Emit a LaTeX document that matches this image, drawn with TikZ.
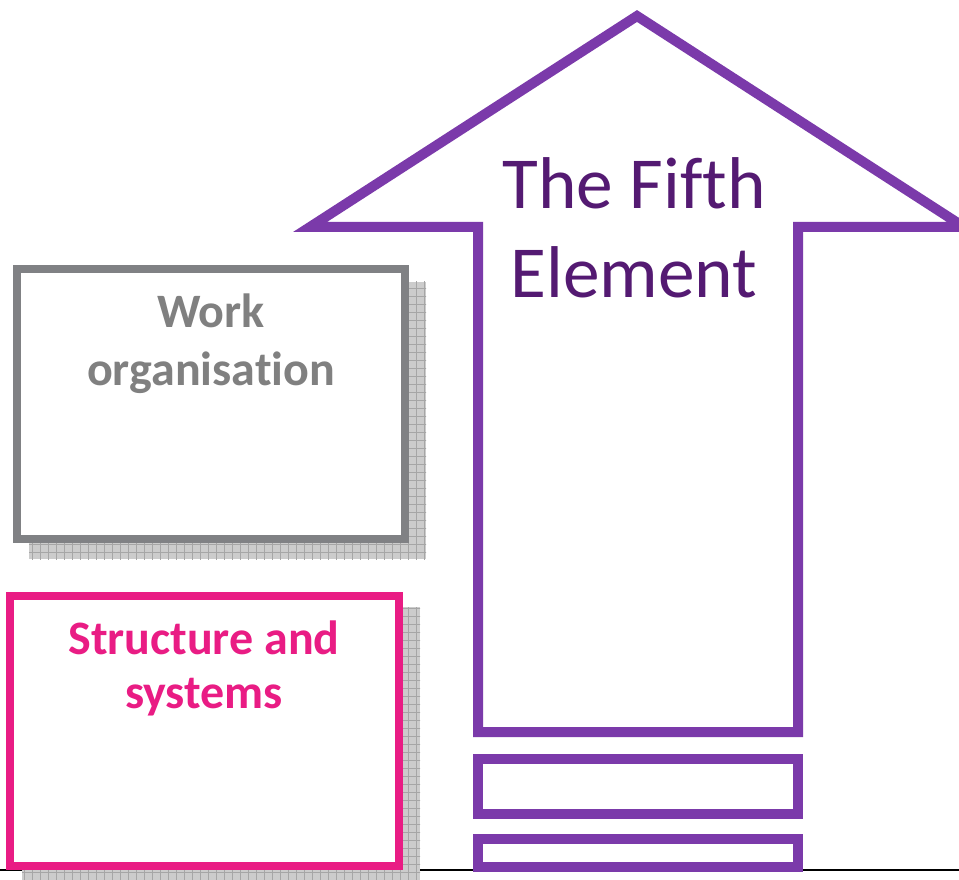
\documentclass[tikz,border=0pt]{standalone}
\usepackage{fontspec}
\setmainfont{Carlito}[Ligatures=NoCommon]
\usetikzlibrary{patterns.meta}
\definecolor{arrowpurple}{RGB}{123,58,170}
\definecolor{titlepurple}{RGB}{84,26,114}
\definecolor{framegray}{RGB}{128,129,132}
\definecolor{labelgray}{RGB}{128,128,128}
\definecolor{framepink}{RGB}{233,28,132}
\begin{document}
\begin{tikzpicture}[x=0.75pt,y=-0.75pt,
	shadowrect/.style={fill=gray!40},
	shadowgrid/.style={pattern={Lines[angle=0,distance=6pt,line width=0.5pt]},pattern color=gray!70},
	shadowgridv/.style={pattern={Lines[angle=90,distance=6pt,line width=0.5pt]},pattern color=gray!70},
	element/.style={draw=arrowpurple,line width=7.5pt,fill=white},
	boxlabel/.style={align=center,anchor=base,font=\bfseries\fontsize{36}{43}\selectfont}]
	\useasboundingbox (0,0) rectangle (959,880);
	% ground line
	\draw[line width=0.8pt] (0,870) -- (959,870);
	% shadows
	\foreach \a/\b/\c/\d in {29/282/426/559, 22/607/420/886} {
		\fill[shadowrect] (\a,\b) rectangle (\c,\d);
		\path[shadowgrid] (\a,\b) rectangle (\c,\d);
		\path[shadowgridv] (\a,\b) rectangle (\c,\d);
	}
	% boxes
	\draw[draw=framegray,line width=6pt,fill=white] (17,269) rectangle (405,539);
	\draw[draw=framepink,line width=6pt,fill=white] (10,596) rectangle (399,866);
	\node[boxlabel,text=labelgray,font=\bfseries\fontsize{36}{43.5}\selectfont] (work) at (211,385) {Work\\organisation};
	\node[boxlabel,text=framepink,font=\bfseries\fontsize{36}{40.5}\selectfont] (structure) at (204,708) {Structure and\\systems};
	% the arrow and its bars
	\draw[element,line join=miter] (637,16) -- (964,227) -- (798,227) -- (798,732)
		-- (478,732) -- (478,227) -- (310,227) -- cycle;
	\draw[element] (478,759) rectangle (798,814);
	\draw[element] (478,839) rectangle (798,867);
	\node[align=center,anchor=base,text=titlepurple,font=\fontsize{55}{66.75}\selectfont] (fifth) at (634,298) {The Fifth\\Element};
\end{tikzpicture}
\end{document}
